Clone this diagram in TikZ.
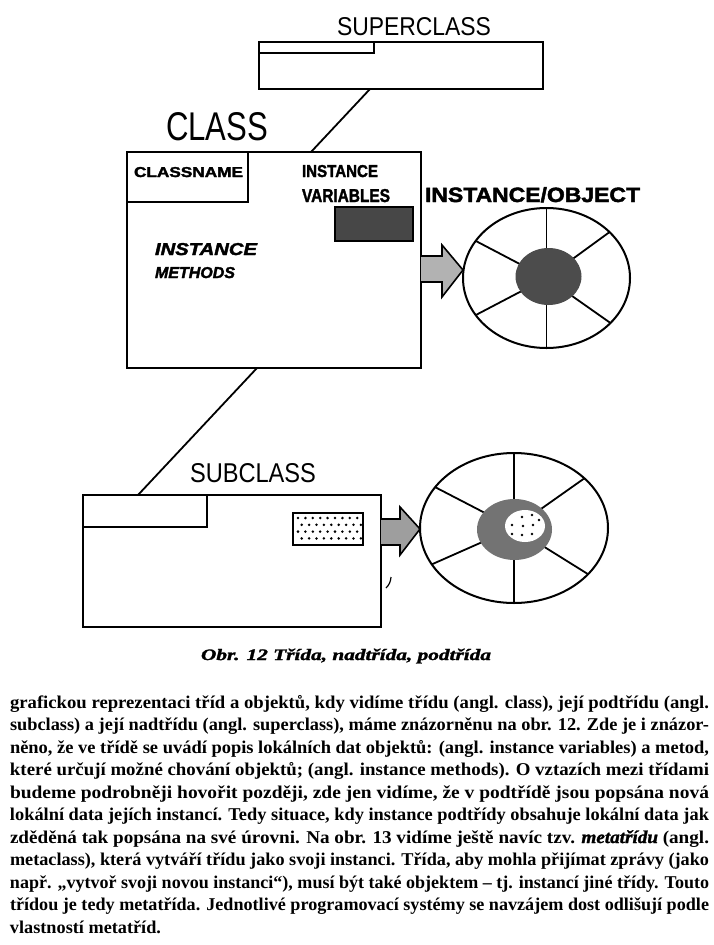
\documentclass[tikz,border=0pt]{standalone}
\usepackage{fontspec}
\usepackage{graphicx}
\setmainfont{Liberation Serif}
\setsansfont{Liberation Sans}
\newfontfamily\sansR{Liberation Sans}
\newfontfamily\sansB{Liberation Sans Bold}[FakeBold=2]
\newfontfamily\sansBI{Liberation Sans Bold Italic}[FakeBold=2]
\newfontfamily\serifB{Liberation Serif Bold}
\newfontfamily\serifBI{Liberation Serif Bold Italic}[FakeBold=1.5]
\usetikzlibrary{calc}
\newcommand{\bodyline}[3]{\node[txt] (#1) at (10,#2) {\resizebox{699pt}{\height}{\serifB\fontsize{18pt}{21pt}\selectfont #3}};}
\begin{document}
\begin{tikzpicture}[x=1pt,y=-1pt,
  box/.style={draw, line width=2pt, fill=white, inner sep=0pt, outer sep=0pt, anchor=north west},
  lbl/.style={anchor=base west, inner sep=0pt, outer sep=0pt},
  txt/.style={anchor=base west, inner sep=0pt, outer sep=0pt},
  link/.style={line width=1.8pt},
  spoke/.style={line width=1.8pt},
  blockarrow/.style={draw, line width=1.6pt, line join=miter}]
\useasboundingbox (0,0) rectangle (714,945);
\fill[white] (0,0) rectangle (714,945);

% ---------- links ----------
\coordinate (supLink) at (370,89);
\coordinate (classTop) at (311,152);
\coordinate (classBot) at (257,368);
\coordinate (subTop) at (138,495);
\draw[link] (supLink) -- (classTop);
\draw[link] (classBot) -- (subTop);

% ---------- superclass ----------
\node[lbl] (supTitle) at (337,35) {\resizebox{154pt}{18pt}{\sansR SUPERCLASS}};
\node[box, minimum width=284pt, minimum height=47pt] (super) at (259,42) {};
\node[box, line width=1.5pt, minimum width=115pt, minimum height=11pt] (superTab) at (259,42) {};

% ---------- class ----------
\node[lbl] (classTitle) at (166,140) {\resizebox{102pt}{28pt}{\sansR CLASS}};
\node[box, minimum width=294pt, minimum height=216pt] (class) at (127,152) {};
\node[box, minimum width=121pt, minimum height=50pt] (cname) at (127,152) {};
\node[lbl] (cnameTxt) at (134,177) {\resizebox{109pt}{10pt}{\sansB CLASSNAME}};
\node[lbl] (ivarTxtA) at (302,177) {\resizebox{76pt}{12pt}{\sansB INSTANCE}};
\node[lbl] (ivarTxtB) at (302,202) {\resizebox{88pt}{13pt}{\sansB VARIABLES}};
\node[box, line width=1.5pt, fill=black!72, minimum width=78pt, minimum height=34pt] (ivar) at (335,207) {};
\node[lbl] (imethA) at (155,255) {\resizebox{102pt}{12pt}{\sansBI INSTANCE}};
\node[lbl] (imethB) at (155,278) {\resizebox{80pt}{11pt}{\sansBI METHODS}};

% class -> instance arrow
\draw[blockarrow, fill=black!30] (421,256) -- (442,256) -- (442,245) -- (463,270) -- (442,297) -- (442,282) -- (421,282);

% ---------- instance / object ----------
\node[lbl] (objTitle) at (425,202) {\resizebox{215pt}{15pt}{\sansB INSTANCE/OBJECT}};
\coordinate (oA) at (546.5,278);
\draw[line width=2pt] (oA) ellipse [x radius=83.5, y radius=70];
\foreach \a in {90,148,212,270,319,40}
  \draw[spoke] (oA) -- ($(oA)+(\a:83.5 and 70)$);
\fill[black!70] (548.5,276.5) ellipse [x radius=33, y radius=28.5];

% ---------- subclass ----------
\node[lbl] (subTitle) at (190,482) {\resizebox{126pt}{19pt}{\sansR SUBCLASS}};
\node[box, minimum width=298pt, minimum height=132pt] (sub) at (83,495) {};
\node[box, minimum width=124pt, minimum height=32pt] (subTab) at (83,495) {};
\node[box, line width=1.8pt, minimum width=70pt, minimum height=32pt] (svar) at (293,513) {};
\foreach \j in {0,...,3}
  \foreach \i in {0,...,8}
    \fill ({298+\i*7.4+mod(\j,2)*3.7},{518+\j*6.8}) circle (1.4pt);

% subclass -> instance arrow
\draw[blockarrow, fill=black!38] (381,519) -- (400,519) -- (400,507) -- (420,529) -- (400,555) -- (400,545) -- (381,545);

\coordinate (oB) at (514,528);
\draw[line width=2pt] (oB) ellipse [x radius=94, y radius=75];
\foreach \a in {90,151,213,270,318.5,38}
  \draw[spoke] (oB) -- ($(oB)+(\a:94 and 75)$);
\fill[black!55] (514.5,529.5) ellipse [x radius=37.5, y radius=30.5];
\fill[white] (525,526) ellipse [x radius=20, y radius=16];
\foreach \p in {(512,525),(522,517),(532,515),(523,526),(533,525),(512,534),(522,535),(532,534),(539,520)}
  \fill \p circle (1.4pt);

% small stray tick
\draw[line width=1.2pt] (391,577) to[bend left=20] (386,588);

% ---------- caption ----------
\node[txt] (caption) at (201,660) {\resizebox{290pt}{\height}{\serifBI\fontsize{16pt}{18pt}\selectfont Obr. 12 Třída, nadtřída, podtřída}};

% ---------- body text ----------
\bodyline{l1}{708}{grafickou reprezentaci tříd a objektů, kdy vidíme třídu (angl. class), její podtřídu (angl.}
\bodyline{l2}{730.5}{subclass) a její nadtřídu (angl. superclass), máme znázorněnu na obr. 12. Zde je i znázor-}
\bodyline{l3}{753}{něno, že ve třídě se uvádí popis lokálních dat objektů: (angl. instance variables) a metod,}
\bodyline{l4}{775.5}{které určují možné chování objektů; (angl. instance methods). O vztazích mezi třídami}
\bodyline{l5}{798}{budeme podrobněji hovořit později, zde jen vidíme, že v podtřídě jsou popsána nová}
\bodyline{l6}{820.5}{lokální data jejích instancí. Tedy situace, kdy instance podtřídy obsahuje lokální data jak}
\bodyline{l7}{843}{zděděná tak popsána na své úrovni. Na obr. 13 vidíme ještě navíc tzv. {\serifBI metatřídu} (angl.}
\bodyline{l8}{865.5}{metaclass), která vytváří třídu jako svoji instanci. Třída, aby mohla přijímat zprávy (jako}
\bodyline{l9}{888}{např. „vytvoř svoji novou instanci“), musí být také objektem – tj. instancí jiné třídy. Touto}
\bodyline{l10}{910.5}{třídou je tedy metatřída. Jednotlivé programovací systémy se navzájem dost odlišují podle}
\node[txt] (l11) at (10,933) {\resizebox{151pt}{\height}{\serifB\fontsize{18pt}{21pt}\selectfont vlastností metatříd.}};
\end{tikzpicture}
\end{document}
